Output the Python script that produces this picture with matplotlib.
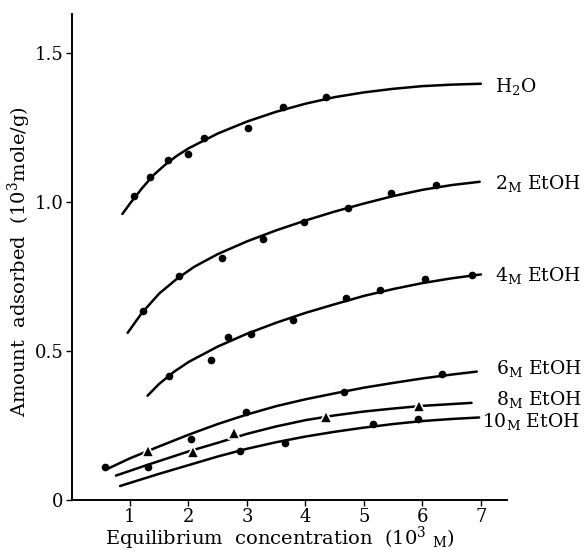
import matplotlib
matplotlib.use("Agg")
import matplotlib.pyplot as plt

plt.rcParams["font.family"] = ["DejaVu Serif"]
plt.rcParams["mathtext.fontset"] = "dejavuserif"

# measured points (x: 10^3 M, y: 10^3 mole/g)
h2o_x = [1.07, 1.35, 1.65, 2.0, 2.27, 3.01, 3.62, 4.36]
h2o_y = [1.02, 1.083, 1.14, 1.16, 1.215, 1.25, 1.318, 1.351]
m2_x = [1.23, 1.84, 2.57, 3.27, 3.98, 4.72, 5.46, 6.23]
m2_y = [0.635, 0.752, 0.813, 0.877, 0.933, 0.981, 1.029, 1.057]
m4_x = [1.67, 2.38, 2.67, 3.07, 3.79, 4.70, 5.27, 6.05, 6.84]
m4_y = [0.417, 0.47, 0.548, 0.557, 0.604, 0.677, 0.705, 0.741, 0.755]
m6_x = [0.58, 2.05, 2.98, 4.66, 6.33]
m6_y = [0.11, 0.204, 0.294, 0.363, 0.422]
m8_x = [1.30, 2.08, 2.78, 4.35, 5.95]
m8_y = [0.165, 0.162, 0.226, 0.28, 0.315]
m10_x = [1.31, 2.88, 3.65, 5.16, 5.93]
m10_y = [0.11, 0.165, 0.19, 0.254, 0.271]

# drawn curves
h2o_cx = [0.87, 1.0, 1.2, 1.4, 1.6, 1.8, 2.0, 2.5, 3.0, 3.5, 4.0, 4.5, 5.0, 5.5, 6.0, 6.5, 7.0]
h2o_cy = [0.96, 0.995, 1.045, 1.09, 1.125, 1.155, 1.18, 1.23, 1.27, 1.303, 1.33, 1.352,
          1.368, 1.38, 1.389, 1.394, 1.397]
m2_cx = [0.96, 1.2, 1.5, 1.8, 2.1, 2.5, 3.0, 3.5, 4.0, 4.5, 5.0, 5.5, 6.0, 6.5, 6.98]
m2_cy = [0.561, 0.627, 0.693, 0.742, 0.783, 0.825, 0.868, 0.905, 0.938, 0.968, 0.995,
         1.02, 1.041, 1.057, 1.068]
m4_cx = [1.3, 1.5, 1.75, 2.0, 2.5, 3.0, 3.5, 4.0, 4.5, 5.0, 5.5, 6.0, 6.5, 7.0]
m4_cy = [0.35, 0.39, 0.43, 0.463, 0.515, 0.558, 0.595, 0.628, 0.657, 0.685, 0.708,
         0.728, 0.744, 0.757]
m6_cx = [0.62, 1.0, 1.5, 2.0, 2.5, 3.0, 3.5, 4.0, 4.5, 5.0, 5.5, 6.0, 6.5, 6.93]
m6_cy = [0.105, 0.14, 0.18, 0.219, 0.255, 0.287, 0.315, 0.338, 0.358, 0.377, 0.393,
         0.408, 0.421, 0.431]
m8_cx = [0.76, 1.3, 2.0, 2.5, 3.0, 3.5, 4.0, 4.5, 5.0, 5.5, 6.0, 6.84]
m8_cy = [0.082, 0.118, 0.163, 0.192, 0.222, 0.247, 0.268, 0.284, 0.297, 0.307, 0.316, 0.326]
m10_cx = [0.83, 1.5, 2.0, 2.5, 3.0, 3.5, 4.0, 4.5, 5.0, 5.5, 6.0, 6.5, 6.97]
m10_cy = [0.047, 0.088, 0.117, 0.146, 0.172, 0.194, 0.213, 0.229, 0.243, 0.255, 0.265,
          0.272, 0.277]

labels = ["H$_2$O", "2$\\mathregular{_M}$ EtOH", "4$\\mathregular{_M}$ EtOH",
          "6$\\mathregular{_M}$ EtOH", "8$\\mathregular{_M}$ EtOH", "10$\\mathregular{_M}$ EtOH"]
label_x = [7.24, 7.24, 7.24, 7.26, 7.26, 7.02]
label_y = [1.387, 1.063, 0.755, 0.443, 0.339, 0.263]

fig = plt.figure(figsize=(5.88, 5.57), dpi=100)
ax = fig.add_axes([0.1216, 0.1023, 0.741, 0.872])

curves = [(h2o_cx, h2o_cy), (m2_cx, m2_cy), (m4_cx, m4_cy),
          (m6_cx, m6_cy), (m8_cx, m8_cy), (m10_cx, m10_cy)]
for cx, cy in curves:
    ax.plot(cx, cy, color="black", lw=1.8, solid_capstyle="round", solid_joinstyle="round")

for px, py in [(h2o_x, h2o_y), (m2_x, m2_y), (m4_x, m4_y), (m6_x, m6_y), (m10_x, m10_y)]:
    ax.plot(px, py, "o", color="black", ms=4.5, ls="none")
ax.plot(m8_x, m8_y, "^", color="black", ms=8.5, mec="white", mew=1.2, ls="none")

for t, lx, ly in zip(labels, label_x, label_y):
    ax.text(lx, ly, t, fontsize=13.5, va="center", ha="left", clip_on=False)

ax.set_xlim(0, 7.45)
ax.set_ylim(0, 1.63)
ax.set_xticks([1, 2, 3, 4, 5, 6, 7])
ax.set_yticks([0, 0.5, 1.0, 1.5])
ax.set_yticklabels(["0", "0.5", "1.0", "1.5"])
ax.tick_params(labelsize=13, length=4, width=1, direction="out", pad=2)
for s in ["top", "right"]:
    ax.spines[s].set_visible(False)
ax.spines["left"].set_linewidth(1.4)
ax.spines["bottom"].set_linewidth(1.4)

ax.set_xlabel("Equilibrium  concentration  (10$^3$ $\\mathregular{_M}$)", fontsize=14, va="center")
ax.set_ylabel("Amount  adsorbed  (10$^3$mole/g)", fontsize=14, va="center")
ax.xaxis.set_label_coords(0.478, -0.08)
ax.yaxis.set_label_coords(-0.12, 0.49)

fig.savefig("out.png", dpi=100)
